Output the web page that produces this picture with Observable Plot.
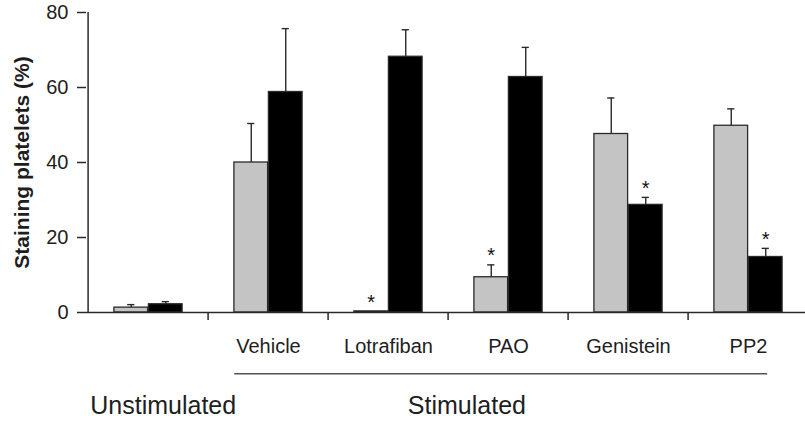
<!DOCTYPE html>
<html><head><meta charset="utf-8">
<script src="https://cdn.jsdelivr.net/npm/d3@7"></script>
<script src="https://cdn.jsdelivr.net/npm/@observablehq/plot@0.6"></script>
<style>body{margin:0;background:#fff}</style>
</head><body><div id="chart"></div>
<script>
const categories = ["Unstimulated", "Vehicle", "Lotrafiban", "PAO", "Genistein", "PP2"];
const series = ["Grey", "Black"];
const greyValues = [1.3, 40.0, 0.3, 9.4, 47.6, 49.8];
const greyErrors = [0.8, 10.4, 0, 3.3, 9.6, 4.5];
const greySignificant = [false, false, true, true, false, false];
const blackValues = [2.2, 58.8, 68.2, 62.8, 28.7, 14.8];
const blackErrors = [0.7, 16.9, 7.2, 7.9, 2.0, 2.3];
const blackSignificant = [false, false, false, false, true, true];
const yTicks = [0, 20, 40, 60, 80];
const yTitle = "Staining platelets (%)";
const groupLabels = ["Unstimulated", "Stimulated"];
const stimulatedSpan = ["Vehicle", "PP2"];

const rows = categories.flatMap((c, i) => [
  {category: c, series: series[0], value: greyValues[i], err: greyErrors[i], sig: greySignificant[i]},
  {category: c, series: series[1], value: blackValues[i], err: blackErrors[i], sig: blackSignificant[i]}
]);

// layout
const W = 805, H = 424, mL = 86, mT = 12, mB = 112, xEnd = 810.8;
const band = (xEnd - mL) / categories.length, half = band / 2;
const barW = 34.5, off = barW / 2, cap = 4;
const ink = "#2a2a2a";

const grey = rows.filter(d => d.series === series[0]);
const black = rows.filter(d => d.series === series[1]);

function seriesMarks(data, sign, fill) {
  const center = half + sign * off;
  return [
    Plot.barY(data, {x: "category", y: "value", fill, stroke: ink, strokeWidth: 1.3,
      insetLeft: sign < 0 ? half - barW : half, insetRight: sign < 0 ? half : half - barW}),
    Plot.ruleX(data.filter(d => d.err > 0), {x: "category", y1: "value", y2: d => d.value + d.err,
      dx: sign * off, stroke: ink, strokeWidth: 1.4}),
    Plot.tickY(data.filter(d => d.err > 0), {x: "category", y: d => d.value + d.err,
      insetLeft: center - cap, insetRight: band - center - cap, stroke: ink, strokeWidth: 1.4}),
    Plot.text(data.filter(d => d.sig), {x: "category", y: d => d.value + d.err, text: () => "*",
      dx: sign * off, dy: -2.5, lineAnchor: "bottom", fontSize: 20, fill: "#111"})
  ];
}

const chart = Plot.plot({
  width: W, height: H,
  marginLeft: mL, marginRight: 0, marginTop: mT, marginBottom: mB,
  style: {fontFamily: "'Liberation Sans', Arial, sans-serif", color: "#1e1e1e", background: "#fff"},
  x: {type: "band", domain: categories, range: [mL, xEnd], padding: 0},
  y: {domain: [0, 80], range: [H - mB, mT]},
  marks: [
    ...seriesMarks(grey, -1, "#c4c4c4"),
    ...seriesMarks(black, 1, "#000"),
    // axis lines
    Plot.ruleY([0], {stroke: ink, strokeWidth: 1.5}),
    Plot.ruleX([categories[0]], {x: d => d, y1: 0, y2: 80, dx: -half, stroke: ink, strokeWidth: 1.5}),
    // category boundary ticks
    Plot.ruleX(categories.slice(1), {x: d => d, y1: 0, y2: 0, insetBottom: -8, dx: -half, stroke: ink, strokeWidth: 1.5}),
    Plot.axisY(yTicks, {tickSize: 9, tickPadding: 9, fontSize: 20, label: null, stroke: ink, strokeWidth: 1.5}),
    Plot.axisX({tickSize: 0, tickPadding: 26, fontSize: 20, label: null,
      tickFormat: d => d === categories[0] ? "" : d}),
    Plot.text([yTitle], {frameAnchor: "left", textAnchor: "middle", dx: -64, rotate: -90, fontSize: 21, fontWeight: "bold", lineAnchor: "middle"}),
    // stimulated bracket line
    Plot.ruleY([stimulatedSpan], {x1: d => d[0], x2: d => d[1], y: 0, dy: 61.3,
      insetLeft: 26.2, insetRight: 40.8, stroke: "#555", strokeWidth: 1.5}),
    Plot.text([groupLabels[0]], {x: () => categories[0], y: 0, dx: 14.7, dy: 101, lineAnchor: "bottom", fontSize: 25}),
    Plot.text([groupLabels[1]], {x: () => categories[2], y: 0, dx: 78.4, dy: 101, lineAnchor: "bottom", fontSize: 25})
  ]
});
document.getElementById("chart").append(chart);
</script>
</body></html>
